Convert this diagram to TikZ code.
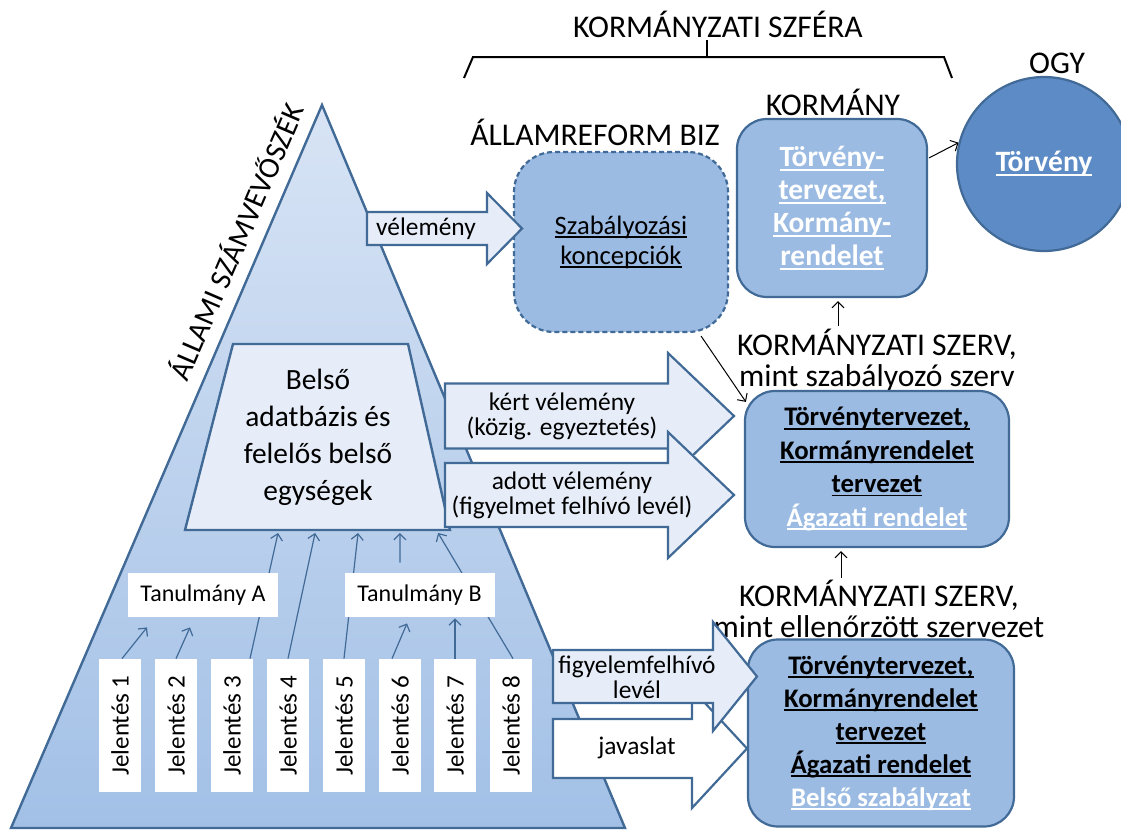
\documentclass[tikz,border=0pt]{standalone}
\usepackage{fontspec}
\setmainfont{Carlito}
\usetikzlibrary{calc,arrows.meta}

\definecolor{edgeblue}{RGB}{65,106,150}
\definecolor{boxblue}{RGB}{155,187,227}
\definecolor{ogyblue}{RGB}{92,139,198}
\definecolor{paleblue}{RGB}{230,237,248}
\definecolor{tritop}{RGB}{216,228,245}
\definecolor{tribot}{RGB}{162,192,230}

% underline at a fixed depth
\newsavebox\ulinbox
\newcommand{\ulin}[1]{\sbox\ulinbox{#1}\rlap{\rule[-0.14em]{\wd\ulinbox}{0.07em}}\usebox\ulinbox}

\pgfdeclarelayer{back}
\pgfdeclarelayer{mid}
\pgfsetlayers{back,mid,main}

\tikzset{
  capt/.style={font=\fontsize{15.8}{15.5}\selectfont, align=center, inner sep=0pt},
  jelbox/.style={fill=white, minimum width=21pt, minimum height=66.5pt, inner sep=0pt, font=\fontsize{12.5}{13}\selectfont},
  tanbox/.style={fill=white, minimum width=75pt, minimum height=22pt, inner sep=0pt, font=\fontsize{12}{13}\selectfont},
  thinarr/.style={-{Straight Barb[length=3pt,width=6pt]}, edgeblue, line width=0.6pt},
  blkarr/.style={-{Straight Barb[length=3pt,width=6pt]}, black, line width=0.5pt},
  fatarrow/.style={draw=edgeblue, fill=paleblue, line width=1.1pt},
  arrtext/.style={font=\fontsize{12.7}{12.5}\selectfont, align=center, inner sep=0pt},
  rbox/.style={draw=edgeblue, fill=boxblue, line width=1.1pt, rounded corners=15pt, align=center, inner sep=0pt},
}

\begin{document}
\begin{tikzpicture}[x=0.5pt, y=-0.5pt]
    \useasboundingbox (0,0) rectangle (1121,830);

    % Pyramid with the inner trapezoid
    \begin{pgfonlayer}{back}
        \draw[edgeblue, line width=1.2pt, top color=tritop, bottom color=tribot] (322,105) -- (625,828) -- (11,828) -- cycle;
        \draw[edgeblue, line width=1.2pt, fill=paleblue] (233,344) -- (408,344) -- (450,530) -- (185,530) -- cycle;
    \end{pgfonlayer}
    \coordinate (tbl) at (185,533);
    \coordinate (tbr) at (450,533);
    \node[capt, font=\fontsize{15}{15}\selectfont, rotate=66.7] (asz) at (235,241) {ÁLLAMI SZÁMVEVŐSZÉK};
    \node[font=\fontsize{14.7}{18.5}\selectfont, align=center, inner sep=0pt] (belso) at (318,437) {Belső\\adatbázis és\\felelős belső\\egységek};

    % Reports and studies
    \foreach \i/\x in {1/120,2/176,3/232,4/288,5/344,6/400,7/455,8/511}
        \node[jelbox] (jel\i) at (\x,725.5) {\rotatebox{90}{Jelentés \i}};
    \node[tanbox] (tanA) at (203,595) {Tanulmány A};
    \node[tanbox] (tanB) at (419.5,595) {Tanulmány B};

    \begin{pgfonlayer}{mid}
        \draw[thinarr] ($(jel1.north)+(2,0)$) -- ($(tanA.south)+(-56,10)$);
        \draw[thinarr] (jel2.north) -- ($(tanA.south)+(-13,10)$);
        \draw[thinarr] ($(jel3.north)+(18,0)$) -- ($(tbl)!0.351!(tbr)$);
        \draw[thinarr] (jel4.north) -- ($(tbl)!0.491!(tbr)$);
        \draw[thinarr] (jel5.north) -- ($(tbl)!0.653!(tbr)$);
        \draw[thinarr] ($(tanB.north)+(-19.5,-10)$) -- ($(tbl)!0.811!(tbr)$);
        \draw[thinarr] ($(jel6.north)+(-8,0)$) -- ($(tanB.south)+(-12.5,6)$);
        \draw[thinarr] (jel7.north) -- ($(tanB.south)+(35.5,1)$);
        \draw[thinarr] ($(jel8.north)+(2,0)$) -- ($(tbl)!0.955!(tbr)$);
    \end{pgfonlayer}

    % Government sphere
    \node[capt] (szfera) at (718,24) {KORMÁNYZATI SZFÉRA};
    \draw[line width=1pt] (464,78) -- (473,57) -- (944,57) -- (952,78);
    \draw[line width=1pt] (707,57) -- (707,40);
    \node[capt] (ogylbl) at (1057,63) {OGY};
    \node[capt] (kormlbl) at (833,102) {KORMÁNY};
    \node[capt] (bizlbl) at (595,132) {ÁLLAMREFORM BIZ};

    \node[rbox, dashed, dash pattern=on 2.5pt off 1.5pt, rounded corners=20pt, minimum width=107pt, minimum height=90pt,
          font=\fontsize{13.3}{15}\selectfont] (szab) at (621,242) {\ulin{Szabályozási}\\\ulin{koncepciók}};
    \node[rbox, minimum width=95pt, minimum height=89pt, text=white,
          font=\bfseries\fontsize{14.7}{16.5}\selectfont] (korm) at (832,208)
          {\ulin{Törvény-}\\\ulin{tervezet,}\\\ulin{Kormány-}\\\ulin{rendelet}};
    \node[circle, draw=edgeblue, fill=ogyblue, line width=1.1pt, minimum size=87pt, inner sep=0pt, text=white,
          font=\bfseries\fontsize{14.8}{16}\selectfont] (ogy) at (1044,164) {\ulin{Törvény}};

    \node[capt] (szerv1) at (877,360) {KORMÁNYZATI SZERV,\\mint szabályozó szerv};
    \node[rbox, minimum width=132pt, minimum height=78pt, font=\bfseries\fontsize{13.4}{16.7}\selectfont] (szabszerv) at (877,469)
          {\ulin{Törvénytervezet,}\\\ulin{Kormányrendelet}\\\ulin{tervezet}\\\textcolor{white}{\ulin{Ágazati rendelet}}};
    \node[capt] (szerv2) at (879,609) {KORMÁNYZATI SZERV,\\mint ellenőrzött szervezet};
    \node[rbox, minimum width=133pt, minimum height=93.5pt, font=\bfseries\fontsize{13.4}{16.5}\selectfont] (ellszerv) at (881,733)
          {\ulin{Törvénytervezet,}\\\ulin{Kormányrendelet}\\\ulin{tervezet}\\\ulin{Ágazati rendelet}\\\textcolor{white}{\ulin{Belső szabályzat}}};

    \draw[blkarr] ($(korm.north east)+(1,40)$) -- (ogy.166);
    \draw[blkarr] ($(szab.south east)+(-28,3)$) -- ($(szabszerv.north west)+(2,12)$);
    \draw[blkarr] ($(szerv1.north)+(-39,-2)$) -- ($(korm.south)+(6,3)$);
    \draw[blkarr] ($(szerv2.north)+(-38,-2)$) -- ($(szabszerv.south)+(-36,3)$);

    % Block arrows
    \draw[fatarrow] (367,212) -- (487,212) -- (487,193) -- (522,228.5) -- (487,264) -- (487,245) -- (367,245) -- cycle;
    \node[arrtext] (velem) at (426,229) {vélemény};
    \draw[fatarrow] (445,383.5) -- (668,383.5) -- (668,353) -- (734,416) -- (668,479) -- (668,448.5) -- (445,448.5) -- cycle;
    \node[arrtext] (kert) at (562,416) {kért vélemény\\(közig. egyeztetés)};
    \draw[fatarrow] (445,463) -- (668,463) -- (668,432) -- (734,495) -- (668,558) -- (668,527) -- (445,527) -- cycle;
    \node[arrtext] (adott) at (572,495) {adott vélemény\\(figyelmet felhívó levél)};
    \draw[fatarrow, fill=white] (553,719) -- (692,719) -- (692,689) -- (747,748.5) -- (692,808) -- (692,778) -- (553,778) -- cycle;
    \node[arrtext] (javas) at (637,748) {javaslat};
    \draw[fatarrow] (553,650) -- (713,650) -- (713,622) -- (757,676.5) -- (713,731) -- (713,703) -- (553,703) -- cycle;
    \node[arrtext] (figy) at (637,677) {figyelemfelhívó\\levél};
\end{tikzpicture}
\end{document}
